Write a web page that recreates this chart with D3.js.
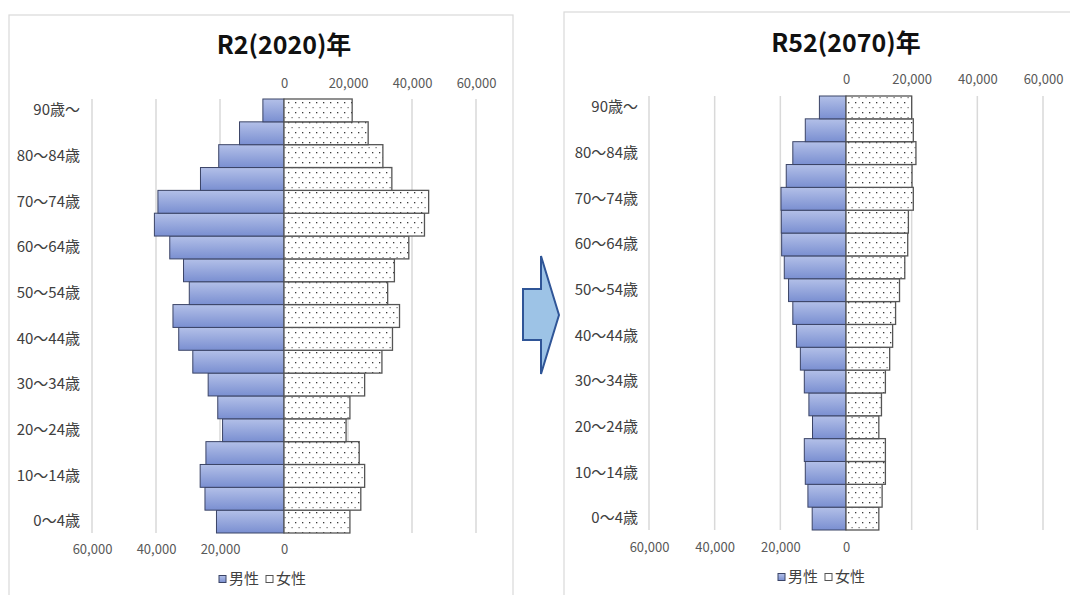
<!DOCTYPE html>
<html>
<head>
<meta charset="utf-8">
<script src="https://cdn.jsdelivr.net/npm/d3@7"></script>
<style>
  html, body { margin: 0; padding: 0; background: #ffffff; }
  svg { display: block; font-family: "Noto Sans CJK JP", "Noto Sans", sans-serif; }
</style>
</head>
<body>
<svg id="chart" width="1070" height="595"></svg>
<script>
// Age groups, youngest first
const ageGroups = ["0～4歳", "5～9歳", "10～14歳", "15～19歳", "20～24歳", "25～29歳",
  "30～34歳", "35～39歳", "40～44歳", "45～49歳", "50～54歳", "55～59歳", "60～64歳",
  "65～69歳", "70～74歳", "75～79歳", "80～84歳", "85～89歳", "90歳～"];

// Population by age group (persons), youngest first
const male2020   = [21100, 24700, 26200, 24400, 19200, 20700, 23700, 28500, 32900, 34700,
                    29600, 31400, 35700, 40500, 39400, 26100, 20400, 13900, 6600];
const female2020 = [20600, 24000, 25200, 23500, 19400, 20600, 25200, 30600, 33900, 36100,
                    32400, 34500, 39000, 43900, 45200, 33700, 30900, 26300, 21300];
const male2070   = [10300, 11600, 12400, 12700, 10200, 11300, 12700, 13900, 15100, 16200,
                    17500, 18800, 19600, 19700, 19800, 18200, 16200, 12400, 8100];
const female2070 = [10000, 11000, 12000, 12000, 10000, 10800, 12000, 13300, 14200, 15100,
                    16300, 17900, 18800, 19000, 20500, 20100, 21300, 20500, 20000];

const maleTicks   = [60000, 40000, 20000, 0];
const femaleTicks = [0, 20000, 40000, 60000];
const seriesNames = ["男性", "女性"];

const svg = d3.select("#chart");
const defs = svg.append("defs");

// Blue vertical gradient for the male bars
const grad = defs.append("linearGradient")
  .attr("id", "maleFill").attr("x1", 0).attr("y1", 0).attr("x2", 0).attr("y2", 1);
grad.append("stop").attr("offset", "0%").attr("stop-color", "#b3c0e8");
grad.append("stop").attr("offset", "100%").attr("stop-color", "#7a8fd1");

// Dotted fill for the female bars
const pat = defs.append("pattern")
  .attr("id", "femaleDots").attr("patternUnits", "userSpaceOnUse")
  .attr("width", 7).attr("height", 10);
pat.append("rect").attr("width", 7).attr("height", 10).attr("fill", "#ffffff");
pat.append("rect").attr("x", 1).attr("y", 2).attr("width", 1.3).attr("height", 1.3).attr("fill", "#3a3a3a");
pat.append("rect").attr("x", 4.5).attr("y", 7).attr("width", 1.2).attr("height", 1.2).attr("fill", "#6a6a6a");

const fmt = d3.format(",");

function drawPyramid(opt) {
  const g = svg.append("g");

  // chart frame
  g.append("rect")
    .attr("x", opt.frame[0]).attr("y", opt.frame[1])
    .attr("width", opt.frame[2] - opt.frame[0]).attr("height", opt.frame[3] - opt.frame[1])
    .attr("fill", "#ffffff").attr("stroke", "#d9d9d9").attr("stroke-width", 1.2);

  const x = d3.scaleLinear().domain([-60000, 60000]).range([opt.plot[0], opt.plot[2]]);
  const y = d3.scaleBand().domain(ageGroups.slice().reverse())
    .range([opt.plot[1], opt.plot[3]]).paddingInner(0).paddingOuter(0);

  // vertical gridlines
  g.append("g").selectAll("line")
    .data([-60000, -40000, -20000, 20000, 40000, 60000])
    .join("line")
    .attr("x1", d => x(d)).attr("x2", d => x(d))
    .attr("y1", opt.plot[1]).attr("y2", opt.plot[3])
    .attr("stroke", "#d9d9d9").attr("stroke-width", 1.5);

  // title
  g.append("text")
    .attr("x", (opt.plot[0] + opt.plot[2]) / 2).attr("y", opt.titleY)
    .attr("text-anchor", "middle").attr("font-size", 25).attr("font-weight", 700)
    .attr("fill", "#111111").text(opt.title);

  // bars
  const rows = ageGroups.map((a, i) => ({ age: a, m: opt.male[i], f: opt.female[i] }));
  g.append("g").selectAll("rect")
    .data(rows).join("rect")
    .attr("x", d => x(-d.m)).attr("y", d => y(d.age))
    .attr("width", d => x(0) - x(-d.m)).attr("height", y.bandwidth())
    .attr("fill", "url(#maleFill)").attr("stroke", "#3b4466").attr("stroke-width", 1);
  g.append("g").selectAll("rect")
    .data(rows).join("rect")
    .attr("x", x(0)).attr("y", d => y(d.age))
    .attr("width", d => x(d.f) - x(0)).attr("height", y.bandwidth())
    .attr("fill", "url(#femaleDots)").attr("stroke", "#555555").attr("stroke-width", 1.3);

  // category labels, every other group from the youngest
  const catAxis = d3.axisLeft(y).tickSize(0).tickPadding(0)
    .tickFormat(d => ageGroups.indexOf(d) % 2 === 0 ? d : "");
  const ca = g.append("g").attr("transform", `translate(${opt.plot[0] - opt.labelGap},0)`).call(catAxis);
  ca.select(".domain").remove();
  ca.selectAll("text").attr("font-size", 15).attr("fill", "#404040")
    .attr("font-family", "Noto Sans CJK JP, sans-serif");

  // value axes: male scale below (reversed), female scale above
  const xm = d3.scaleLinear().domain([60000, 0]).range([x(-60000), x(0)]);
  const xf = d3.scaleLinear().domain([0, 60000]).range([x(0), x(60000)]);
  const bottom = g.append("g").attr("transform", `translate(0,${opt.bottomAxisY})`)
    .call(d3.axisBottom(xm).tickValues(maleTicks).tickFormat(fmt).tickSize(0).tickPadding(0));
  const top = g.append("g").attr("transform", `translate(0,${opt.topAxisY})`)
    .call(d3.axisBottom(xf).tickValues(femaleTicks).tickFormat(fmt).tickSize(0).tickPadding(0));
  [bottom, top].forEach(a => {
    a.select(".domain").remove();
    a.selectAll("text").attr("font-size", 13).attr("fill", "#595959")
      .attr("font-family", "Noto Sans CJK JP, sans-serif").attr("dy", "0.32em");
  });

  // legend
  const lg = g.append("g").attr("transform", `translate(${opt.legendX},${opt.legendY})`);
  const items = [
    { name: seriesNames[0], fill: "url(#maleFill)", stroke: "#3b4466", dx: 0 },
    { name: seriesNames[1], fill: "#ffffff", stroke: "#555555", dx: 47 }
  ];
  items.forEach(it => {
    lg.append("rect").attr("x", it.dx).attr("y", -3.5).attr("width", 7).attr("height", 7)
      .attr("fill", it.fill).attr("stroke", it.stroke).attr("stroke-width", 1);
    lg.append("text").attr("x", it.dx + 10).attr("y", 0).attr("dy", "0.35em")
      .attr("font-size", 15).attr("fill", "#404040").text(it.name);
  });
}

drawPyramid({
  title: "R2(2020)年", male: male2020, female: female2020,
  frame: [9, 15, 513, 620], plot: [92, 99, 476, 533],
  titleY: 54, topAxisY: 84, bottomAxisY: 550, labelGap: 12,
  legendX: 219, legendY: 579
});

drawPyramid({
  title: "R52(2070)年", male: male2070, female: female2070,
  frame: [564, 12, 1090, 620], plot: [649, 96, 1043, 530],
  titleY: 52, topAxisY: 80, bottomAxisY: 548, labelGap: 11,
  legendX: 778, legendY: 577
});

// arrow between the two charts
const arrowPts = [[523, 289], [541, 289], [541, 256], [559, 315], [541, 374], [541, 340], [523, 340]];
svg.append("path")
  .attr("d", d3.line()(arrowPts) + "Z")
  .attr("fill", "#9dc3e6").attr("stroke", "#2f5597").attr("stroke-width", 2)
  .attr("stroke-linejoin", "miter");
</script>
</body>
</html>
